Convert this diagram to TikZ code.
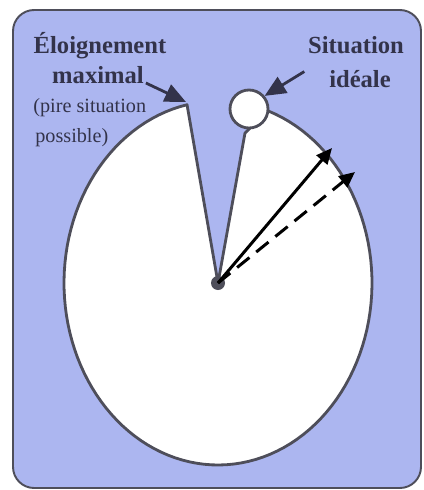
\documentclass[tikz,border=0pt]{standalone}
\usepackage{fontspec}
\setmainfont{Liberation Serif}
\usetikzlibrary{arrows.meta, positioning}
\definecolor{mBlue}{HTML}{ACB6F0}
\definecolor{mInk}{HTML}{33334A}
\definecolor{mEdge}{HTML}{4E4E5A}

\begin{document}
\begin{tikzpicture}[x=0.02cm, y=-0.02cm, >=Stealth,
    lbl/.style={text=mInk, font=\fontsize{14}{16}\selectfont\bfseries,
                inner sep=0pt, anchor=base},
    note/.style={text=mInk, font=\fontsize{11.5}{13}\selectfont,
                 inner sep=0pt, anchor=base west},
    callout/.style={-{Triangle[length=12pt, width=10.5pt]}, mInk, line width=1.6pt},
    vec/.style={-{Triangle[length=9pt, width=8pt]}, black, line width=1.7pt}]
    \useasboundingbox (0,0) rectangle (423,490);
    % cadre
    \draw[mEdge, line width=1.1pt, fill=mBlue, rounded corners=12pt] (13,10) rectangle (421,488);
    % secteur
    \coordinate (pivot) at (218,283);
    \coordinate (gapR) at (245,133);
    \filldraw[fill=white, draw=mEdge, line width=1.6pt, line join=round]
      (pivot) -- plot[domain=101.6:431, samples=120] ({218+154*cos(\x)}, {283-182*sin(\x)})
      -- (gapR) -- cycle;
    \node[circle, draw=mEdge, fill=white, line width=1.6pt, minimum size=0.76cm, inner sep=0pt]
      (ideal) at (249,109) {};
    \fill[mEdge] (pivot) circle[radius=7];
    % vecteurs
    \coordinate (tipA) at (332,148);
    \coordinate (tipB) at (355,172);
    \draw[vec] (pivot) -- (tipA);
    \draw[vec, dash pattern=on 9pt off 5pt] (pivot) -- (tipB);
    % textes
    \node[lbl] (eloign) at (100,53) {Éloignement};
    \node[lbl] (maxi) at (98,83) {maximal};
    \node[note] (pire) at (33,112) {(pire situation};
    \node[note] (poss) at (35,142) {possible)};
    \node[lbl] (situ) at (356,53) {Situation};
    \node[lbl] (idea) at (360,87) {idéale};
    \coordinate (worst) at (186,102);
    \draw[callout] ([xshift=1pt]maxi.base east) -- (worst);
    \draw[callout] ([xshift=-14pt, yshift=4pt]idea.west) -- (ideal.40);
\end{tikzpicture}
\end{document}
